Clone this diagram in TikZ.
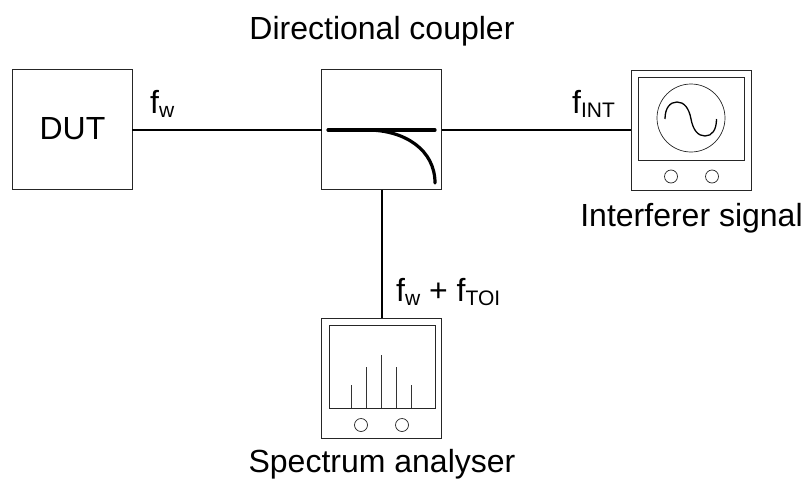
\documentclass[tikz,border=0pt]{standalone}
\usepackage{fontspec}
\setmainfont{Liberation Sans}
\tikzset{
  every picture/.style={x=1pt,y=-1pt},
  box/.style={draw=black!85,line width=1pt,minimum width=120pt,minimum height=120pt,inner sep=0pt,outer sep=0pt},
  wire/.style={draw=black,line width=1.3pt},
  screen/.style={draw=black!85,line width=1pt},
  knob/.style={draw=black!85,line width=0.7pt},
  bar/.style={draw=black!80,line width=1pt},
  pathline/.style={draw=black,line width=3.2pt,line cap=round},
  lbl/.style={inner sep=0pt,font=\fontsize{32}{36}\selectfont,anchor=base},
  flbl/.style={inner sep=0pt,font=\fontsize{32}{36}\selectfont,anchor=base west}
}
\newcommand{\lowsub}[1]{\raisebox{-4pt}{\fontsize{21}{22}\selectfont #1}}
\begin{document}
\begin{tikzpicture}
\useasboundingbox (0,0) rectangle (803,479);
\node[box] (dut) at (72,129) {};
\node[box] (dc) at (381.5,129.5) {};
\node[box] (int) at (691,130) {};
\node[box] (sa) at (381.5,378) {};
\draw[wire] (dut.east |- 0,130) coordinate (a1) -- (a1 -| dc.west);
\draw[wire] (dc.east |- 0,130) coordinate (a2) -- (a2 -| int.west);
\draw[wire] ([xshift=0.4pt]dc.south) -- ([xshift=0.4pt]sa.north);
% coupler
\coordinate (c1) at (328,130);
\coordinate (c2) at (435,130);
\coordinate (c3) at (367,130);
\coordinate (c4) at (435,183);
\draw[pathline] (c1) -- (c2);
\draw[pathline] (c3) .. controls (405,130) and (435,150) .. (c4);
% generator
\draw[screen] (638,77.5) rectangle (744,160);
\node[knob,circle,minimum size=68pt,inner sep=0pt] (ring) at (691,118) {};
\draw[line width=1.3pt,black] (665,119) .. controls (665,108) and (670,102) .. (677,102) .. controls (684,102) and (689,108) .. (691,119) .. controls (693,130) and (698,136) .. (705,136) .. controls (712,136) and (716.5,130) .. (716.5,119);
\node[knob,circle,minimum size=13pt,inner sep=0pt] (k1) at (671,176.5) {};
\node[knob,circle,minimum size=13pt,inner sep=0pt] (k2) at (712,176.5) {};
% analyser
\draw[screen] (329,325) rectangle (435,408);
\foreach \x/\y in {351.5/385,366.5/367,381.5/355,396.5/367,411.5/385}
  \draw[bar] (\x,408) -- (\x,\y);
\node[knob,circle,minimum size=13pt,inner sep=0pt] (k3) at (361,425) {};
\node[knob,circle,minimum size=13pt,inner sep=0pt] (k4) at (402,425) {};
% labels
\node[lbl] (t1) at (382,39) {Directional coupler};
\node[lbl] (t2) at (72.5,139) {DUT};
\node[lbl] (t3) at (691.5,226) {Interferer signal};
\node[lbl] (t4) at (382,472) {Spectrum analyser};
\node[flbl] (f1) at (150,113) {f\lowsub{w}};
\node[flbl] (f2) at (572,113) {f\lowsub{INT}};
\node[flbl] (f3) at (396,301) {f\lowsub{w} + f\lowsub{TOI}};
\end{tikzpicture}
\end{document}
